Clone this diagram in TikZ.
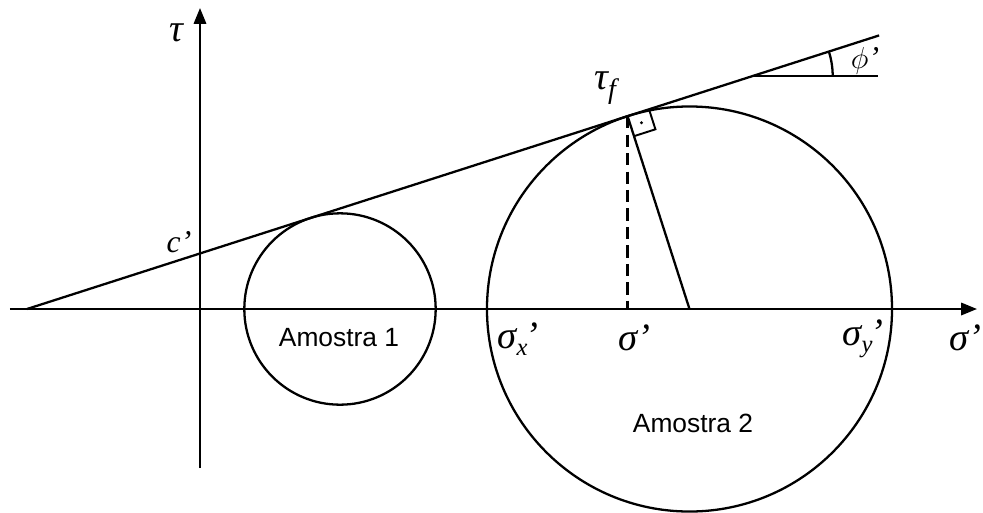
\documentclass[tikz,border=0pt]{standalone}
\usepackage{fontspec}
\setmainfont{Liberation Serif}
\setsansfont{Liberation Sans}
\usetikzlibrary{arrows.meta}
\usetikzlibrary{calc}
\tikzset{
line/.style={
	draw=black,
	line width=1.3pt,
	line cap=butt
},
axis/.style={
	line,
	-{Triangle[length=9pt,width=7pt]}
},
dashline/.style={
	line,
	dash pattern=on 7pt off 3.5pt
},
sample/.style={
	font=\sffamily\fontsize{15}{17}\selectfont,
	inner sep=0pt
},
greek/.style={
	font=\fontsize{22}{24}\selectfont\itshape,
	inner sep=0pt
},
smallgreek/.style={
	font=\fontsize{18}{20}\selectfont\itshape,
	inner sep=0pt
}
}
\newcommand{\subprime}[2]{#1\raisebox{-0.4ex}{\fontsize{14}{14}\selectfont #2}\kern-0.05em’}

\begin{document}
\begin{tikzpicture}
\useasboundingbox (-4,-4.06) rectangle (15.66,6.18);

% points of the construction
\coordinate (O)    at (0,0);
\coordinate (xmin) at (-3.8,0);
\coordinate (xmax) at (15.54,0);
\coordinate (ymin) at (0,-3.18);
\coordinate (ymax) at (0,6.02);
\coordinate (A)    at (-3.46,0);
\coordinate (E)    at ($(A)+(17.8:17.9)$);
\coordinate (C1)   at (2.8,0);
\coordinate (C2)   at (9.79,0);
\coordinate (T)    at ($(C2)+(107.8:4.0505)$);
\coordinate (K)    at ($(A)+(17.8:15.244)$);
\coordinate (Kend) at (13.56,0 |- K);

% axes
\draw [axis] (xmin) -- (xmax);
\draw [axis] (ymin) -- (ymax);

% envelope and circles
\draw [line] (A) -- (E);
\draw [line] (C1) circle (1.9137);
\draw [line] (C2) circle (4.0505);
\draw [dashline] (T) -- (T |- O);
\draw [line] (T) -- (C2);

% right angle mark
\coordinate (P1) at ($(T)!0.45cm!(E)$);
\coordinate (P2) at ($(T)!0.42cm!(C2)$);
\coordinate (P3) at ($(P1)+(P2)-(T)$);
\draw [line, line width=1.1pt] (P1) -- (P3) -- (P2);
\fill ($(T)!0.5!(P3)$) circle (0.9pt);

% friction angle
\draw [line] (K) -- (Kend);
\draw [line] ($(K)+(1.6,0)$) arc (0:17.8:1.6);

% labels
\node (tau)  [greek] at (-0.48,5.52) {τ};
\node (coh)  [smallgreek] at (-0.42,1.34) {c’};
\node (tauf) [greek] at (8.1,4.42) {τ\raisebox{-0.5ex}{\fontsize{16}{16}\selectfont f}};
\node (phi)  [smallgreek] at (13.3,4.96) {$\phi$’};
\node (sx)   [greek] at (6.36,-0.6) {\subprime{σ}{x}};
\node (sm)   [greek] at (8.68,-0.58) {σ’};
\node (sy)   [greek] at (13.26,-0.6) {\subprime{σ}{y}};
\node (sig)  [greek] at (15.3,-0.58) {σ’};
\node (am1)  [sample] at (2.78,-0.58) {Amostra 1};
\node (am2)  [sample] at (9.86,-2.28) {Amostra 2};

\end{tikzpicture}
\end{document}
